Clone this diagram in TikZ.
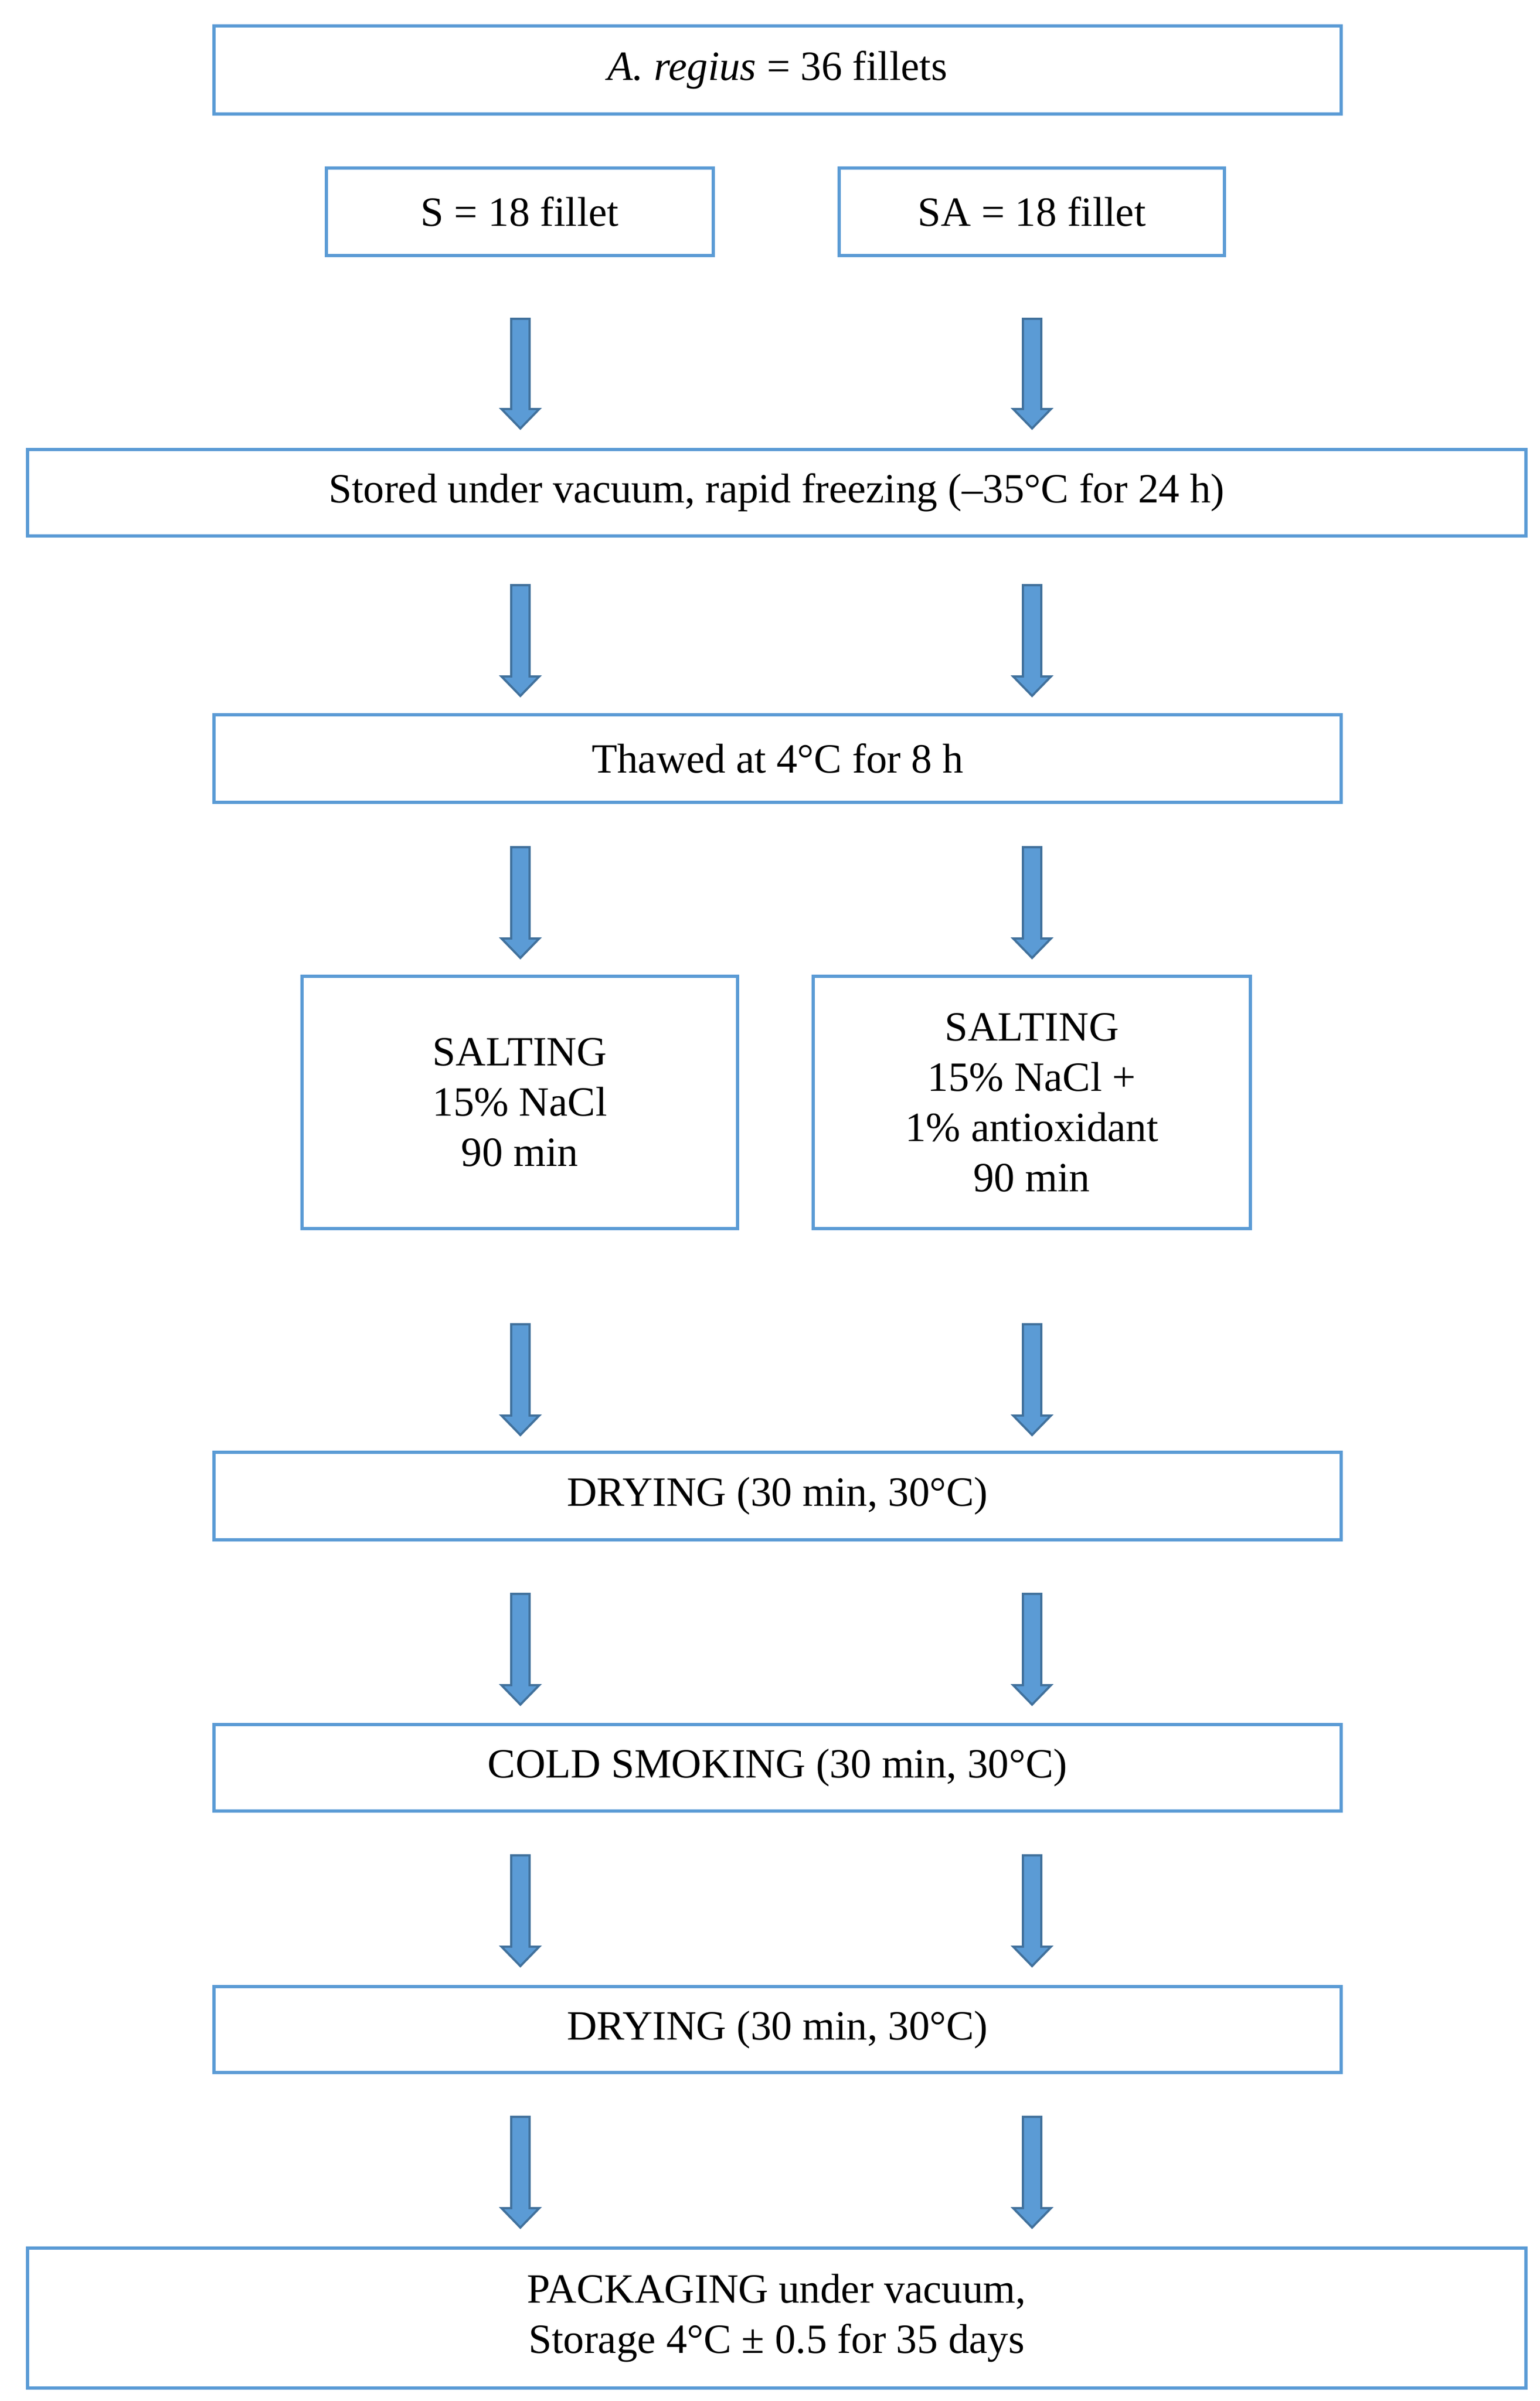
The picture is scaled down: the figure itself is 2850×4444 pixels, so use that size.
\documentclass[tikz,border=0pt]{standalone}
\usepackage{fontspec}
\setmainfont{Liberation Serif}
\begin{document}
\begin{tikzpicture}[x=0.1pt,y=-0.1pt,
  box/.style={draw=boxc,line width=0.6pt,fill=white,align=center,inner sep=0pt,font=\fontsize{7.7pt}{9.3pt}\selectfont},
  barrow/.style={fill=arrf,draw=arrd,line width=0.4pt}]
\definecolor{boxc}{HTML}{5B9BD5}
\definecolor{arrf}{HTML}{5B9BD5}
\definecolor{arrd}{HTML}{41719C}
\useasboundingbox[fill=white] (0,0) rectangle (2850,4444);
\newcommand\mybox[6]{\node[box,minimum width={(#4-#2)*0.1pt},minimum height={(#5-#3)*0.1pt}] (#1) at ({(#2+#4)/2},{(#3+#5)/2}) {#6};}
\newcommand\barr[3]{\draw[barrow] ({#1-17},#2) -- ({#1+17},#2) -- ({#1+17},{#3-36}) -- ({#1+35},{#3-36}) -- (#1,#3) -- ({#1-35},{#3-36}) -- ({#1-17},{#3-36}) -- cycle;}
\mybox{top}{396}{48}{2482}{211}{\textit{A. regius} = 36 fillets}
\mybox{s}{604}{311}{1320}{473}{S = 18 fillet}
\mybox{sa}{1553}{311}{2266}{473}{SA = 18 fillet}
\mybox{store}{51}{832}{2824}{992}{Stored under vacuum, rapid freezing (–35°C for 24 h)}
\mybox{thaw}{396}{1323}{2482}{1485}{Thawed at 4°C for 8 h}
\mybox{saltl}{559}{1807}{1365}{2274}{SALTING\\15\% NaCl\\ 90 min}
\mybox{saltr}{1505}{1807}{2314}{2274}{SALTING\\15\% NaCl +\\1\% antioxidant\\ 90 min}
\mybox{dry}{396}{2688}{2482}{2850}{DRYING (30 min, 30°C)}
\mybox{smoke}{396}{3192}{2482}{3352}{COLD SMOKING (30 min, 30°C)}
\mybox{dry2}{396}{3677}{2482}{3836}{DRYING (30 min, 30°C)}
\mybox{pack}{51}{4161}{2824}{4420}{PACKAGING under vacuum,\\Storage 4°C ± 0.5 for 35 days}
\foreach \a/\b in {590/793,1083/1288,1568/1773,2451/2656,2950/3155,3434/3639,3918/4123}{
  \barr{963}{\a}{\b}
  \barr{1910}{\a}{\b}
}
\end{tikzpicture}
\end{document}
